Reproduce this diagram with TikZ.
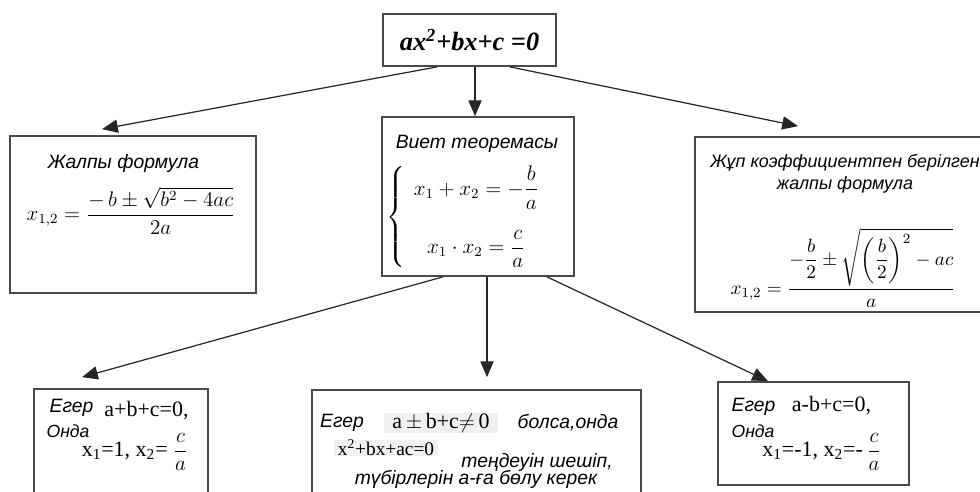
\documentclass[tikz,border=0pt]{standalone}
\usepackage{amsmath}
\usepackage{fontspec}
\setmainfont{Liberation Serif}
\newfontfamily\kzfont{Liberation Sans}
\usepackage{tikz}
\usetikzlibrary{arrows.meta, positioning}
\definecolor{BoxGray}{HTML}{4A4A4A}
\definecolor{HiGray}{HTML}{F0F0F0}

\begin{document}
\begin{tikzpicture}[x=0.02cm, y=-0.02cm,
    box/.style={draw=BoxGray, line width=1pt, inner sep=0pt},
    arr/.style={draw=black!85, line width=0.7pt, -{Triangle[length=9pt,width=7.5pt]}},
    kz/.style={font=\kzfont\itshape\fontsize{11}{13}\selectfont, inner sep=0pt},
    tx/.style={font=\fontsize{12.5}{14}\selectfont, inner sep=0pt},
    fm/.style={font=\fontsize{12}{14}\selectfont, inner sep=0pt}]
    \useasboundingbox (0,0) rectangle (980,491);
    \clip (0,0) rectangle (980,491);

    % boxes
    \node[box, minimum width=3.46cm, minimum height=1.04cm,
          font=\fontsize{15}{18}\selectfont\bfseries\itshape] (eq) at (469.5,40)
          {ax\textsuperscript{2}+bx+c =0};
    \node[box, minimum width=4.92cm, minimum height=3.14cm] (gen) at (133,214.5) {};
    \node[box, minimum width=3.84cm, minimum height=3.18cm] (viet) at (478,196.5) {};
    \node[box, minimum width=6.1cm, minimum height=3.5cm] (even) at (847.5,224.5) {};
    \node[box, minimum width=3.48cm, minimum height=2.62cm] (sumz) at (121,454.5) {};
    \node[box, minimum width=6.58cm, minimum height=2.6cm] (other) at (476.5,455) {};
    \node[box, minimum width=3.82cm, minimum height=2.06cm] (altz) at (813.5,433.5) {};

    % arrows
    \draw[arr] ([xshift=-0.65cm]eq.south) -- ([xshift=-0.62cm,yshift=0.12cm]gen.north);
    \draw[arr] ([xshift=0.11cm]eq.south) -- ([xshift=0.11cm]eq.south |- viet.north);
    \draw[arr] ([xshift=0.81cm]eq.south) -- ([xshift=-0.99cm,yshift=0.2cm]even.north);
    \draw[arr] ([xshift=-0.7cm]viet.south) -- ([xshift=-0.78cm,yshift=0.22cm]sumz.north);
    \draw[arr] ([xshift=0.18cm]viet.south) -- ([xshift=0.18cm,yshift=0.24cm]viet.south |- other.north);
    \draw[arr] ([xshift=1.38cm]viet.south) -- ([xshift=-0.91cm]altz.north);

    % general formula
    \node[kz] (genT) at (123.5,163) {Жалпы формула};
    \node[fm] (genF) at (131,211) {$\displaystyle x_{1,2}=\frac{-\,b\pm\sqrt{b^{2}-4ac}}{2a}$};

    % Vieta
    \node[kz] (vietT) at (477,144) {Виет теоремасы};
    \node[fm, font=\fontsize{11.5}{13}\selectfont] (vietF) at (468,217) {$\left\{\begin{array}{c}
        \displaystyle x_1+x_2=-\frac{b}{a}\\[16pt]
        \displaystyle x_1\cdot x_2=\frac{c}{a}
        \end{array}\right.$};

    % even coefficient
    \node[kz, font=\kzfont\itshape\fontsize{10.2}{12.5}\selectfont, align=center] (evenT) at (845,174) {Жұп коэффициентпен берілген\\жалпы формула};
    \node[fm, font=\fontsize{11}{13}\selectfont] (evenF) at (843,268) {$\displaystyle x_{1,2}=\frac{-\dfrac{b}{2}\pm\sqrt{\left(\dfrac{b}{2}\right)^{2}-ac}}{a}$};

    % a+b+c=0
    \node[kz] (sumzA) at (71.5,408) {Егер};
    \node[tx] (sumzB) at (146.5,411) {a+b+c=0,};
    \node[kz, font=\kzfont\itshape\fontsize{10}{11}\selectfont] (sumzC) at (68,431) {Онда};
    \node[tx] (sumzD) at (135,452) {x\textsubscript{1}=1, x\textsubscript{2}= $\dfrac{c}{a}$};

    % other case
    \node[kz] (otherA) at (342,423) {Егер};
    \node[tx, fill=HiGray, minimum width=2.3cm, minimum height=0.32cm] (otherB) at (441,423) {a\,$\pm$\,b+c$\neq$\,0};
    \node[kz] (otherC) at (568,423) {болса,онда};
    \node[tx, font=\fontsize{11}{13}\selectfont, fill=HiGray, minimum width=2.1cm, minimum height=0.32cm] (otherD) at (386,448) {x\textsuperscript{2}+bx+ac=0};
    \node[kz] (otherE) at (537,462) {теңдеуін шешіп,};
    \node[kz] (otherF) at (476,479) {түбірлерін а-ға бөлу керек};

    % a-b+c=0
    \node[kz] (altzA) at (753.5,407) {Егер};
    \node[tx] (altzB) at (831.5,406) {a-b+c=0,};
    \node[kz, font=\kzfont\itshape\fontsize{10}{11}\selectfont] (altzC) at (753,431) {Онда};
    \node[tx] (altzD) at (822,452) {x\textsubscript{1}=-1, x\textsubscript{2}=-\,$\dfrac{c}{a}$};
\end{tikzpicture}
\end{document}
